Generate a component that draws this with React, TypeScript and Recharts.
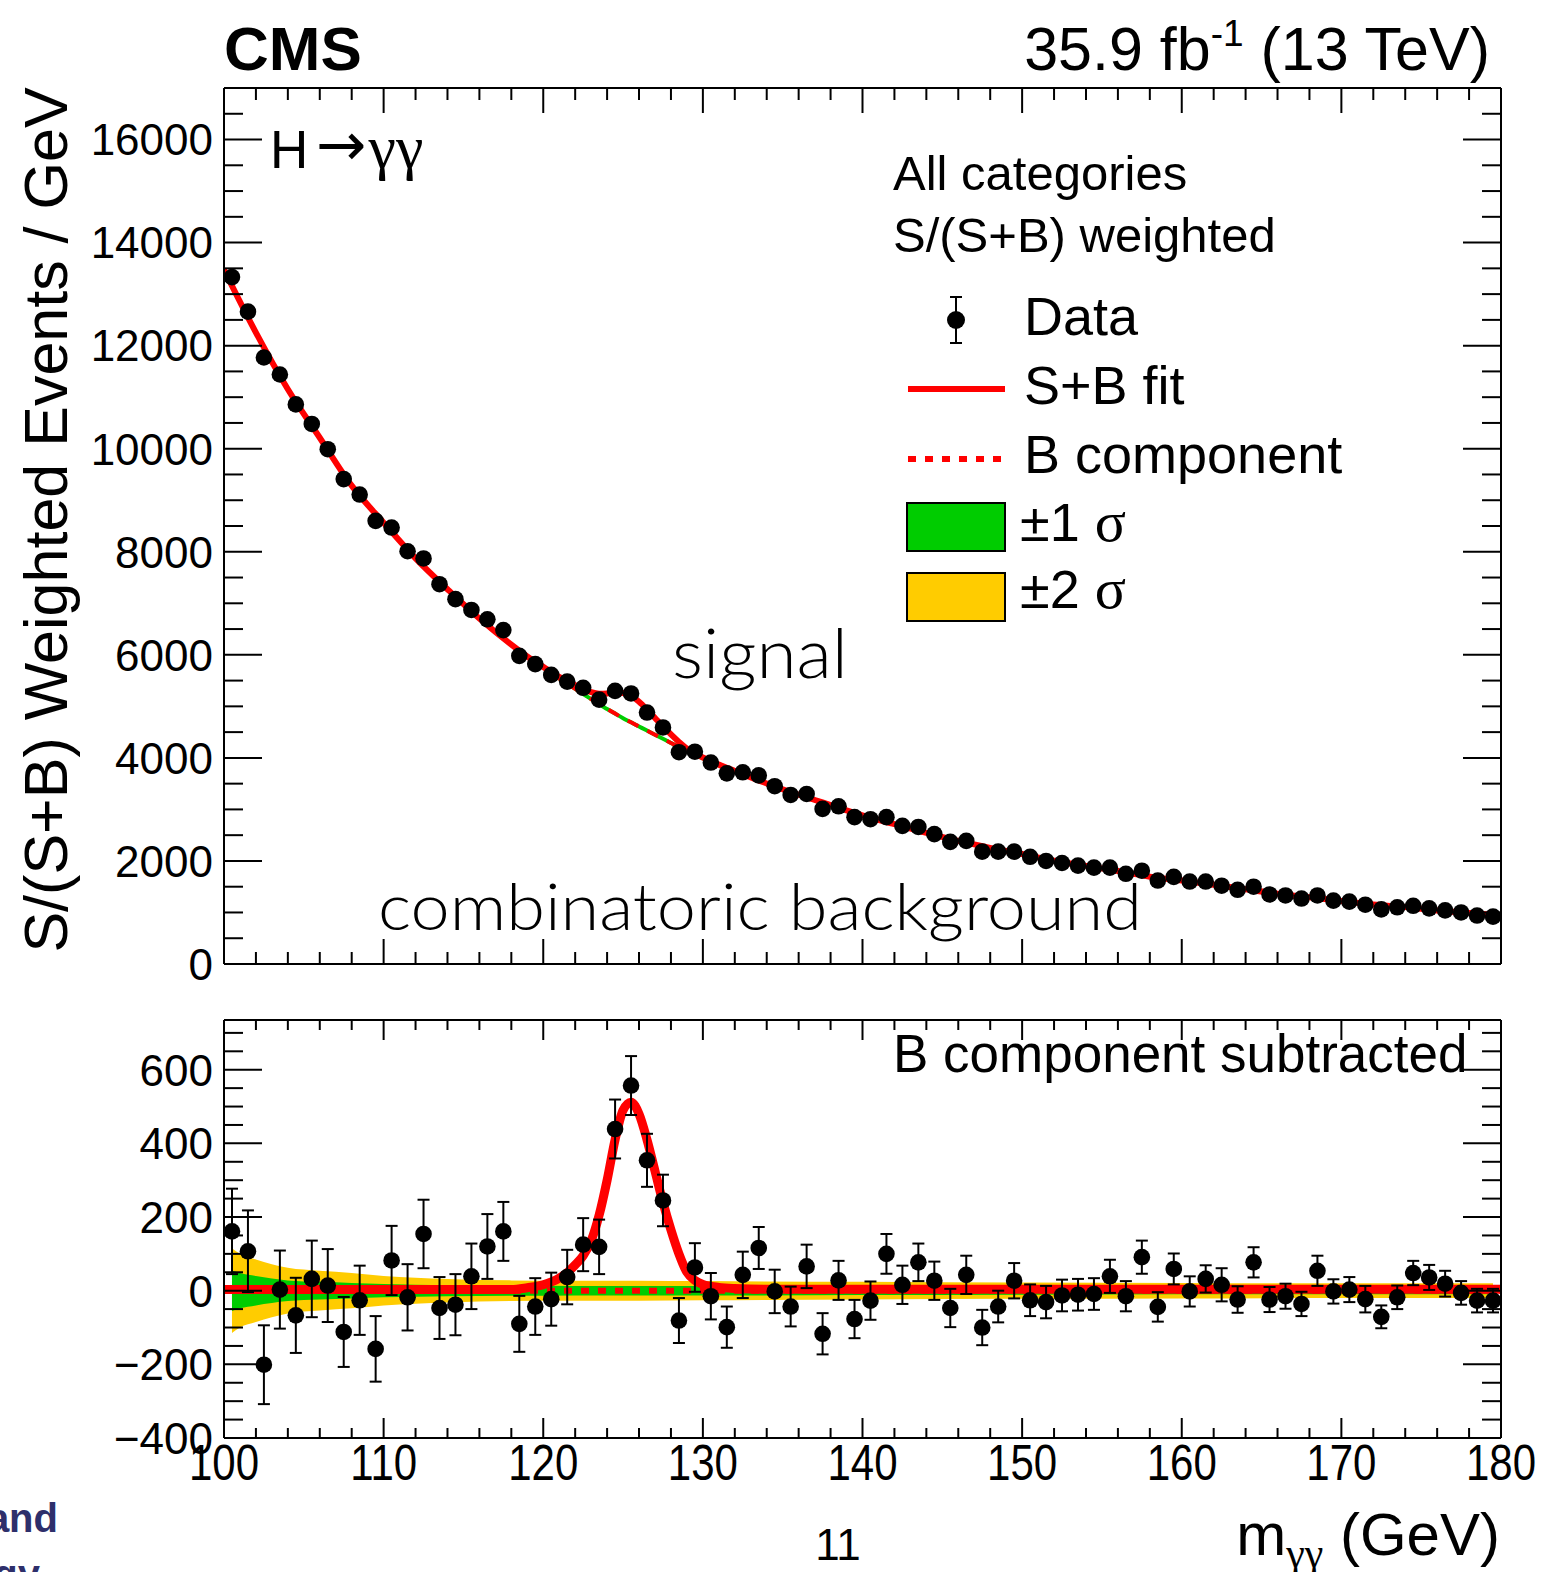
import React from "react";
import { Area, ComposedChart, ErrorBar, Line, Scatter, XAxis, YAxis } from "recharts";

const FONT = '"Liberation Sans", Arial, Helvetica, sans-serif';
const SERIF = '"Liberation Serif", "DejaVu Serif", serif';
const LIGHT = 'Lato, "Open Sans", "Noto Sans", sans-serif';

const RED = "#ff0000";
const GREEN = "#00cc00";
const YELLOW = "#ffcc00";

// 1 GeV bins, centres
const massBins = [
  100.5, 101.5, 102.5, 103.5, 104.5, 105.5, 106.5, 107.5, 108.5, 109.5,
  110.5, 111.5, 112.5, 113.5, 114.5, 115.5, 116.5, 117.5, 118.5, 119.5,
  120.5, 121.5, 122.5, 123.5, 124.5, 125.5, 126.5, 127.5, 128.5, 129.5,
  130.5, 131.5, 132.5, 133.5, 134.5, 135.5, 136.5, 137.5, 138.5, 139.5,
  140.5, 141.5, 142.5, 143.5, 144.5, 145.5, 146.5, 147.5, 148.5, 149.5,
  150.5, 151.5, 152.5, 153.5, 154.5, 155.5, 156.5, 157.5, 158.5, 159.5,
  160.5, 161.5, 162.5, 163.5, 164.5, 165.5, 166.5, 167.5, 168.5, 169.5,
  170.5, 171.5, 172.5, 173.5, 174.5, 175.5, 176.5, 177.5, 178.5, 179.5,
];

// S/(S+B) weighted events / GeV
const weightedEvents = [
  13330, 12660, 11770, 11440, 10860, 10480, 9990, 9410, 9110, 8600,
  8470, 8010, 7870, 7370, 7080, 6870, 6690, 6480, 5980, 5820,
  5610, 5480, 5360, 5130, 5300, 5250, 4880, 4590, 4110, 4120,
  3910, 3700, 3720, 3660, 3450, 3280, 3300, 3010, 3060, 2850,
  2810, 2850, 2680, 2660, 2520, 2370, 2390, 2180, 2180, 2180,
  2080, 2000, 1960, 1910, 1870, 1870, 1750, 1810, 1620, 1690,
  1600, 1600, 1520, 1440, 1500, 1350, 1330, 1270, 1330, 1230,
  1210, 1150, 1060, 1100, 1130, 1080, 1040, 1000, 940, 920,
];

// B component subtracted
const subtracted = [
  161, 107, -201, 3, -67, 32, 14, -112, -26, -158,
  82, -18, 154, -47, -38, 39, 120, 161, -90, -43,
  -23, 37, 125, 119, 439, 557, 354, 245, -81, 63,
  -15, -99, 43, 116, -2, -43, 66, -117, 28, -77,
  -27, 100, 16, 77, 27, -47, 43, -100, -43, 27,
  -26, -31, -13, -11, -9, 39, -15, 91, -44, 59,
  -2, 32, 16, -24, 77, -24, -15, -36, 54, -2,
  3, -23, -71, -18, 48, 36, 19, -6, -27, -27,
];

const subtractedErr = [
  116, 111, 107, 106, 102, 104, 99, 95, 94, 89,
  94, 90, 93, 84, 83, 89, 88, 80, 76, 77,
  72, 74, 72, 74, 80, 80, 72, 70, 61, 66,
  63, 56, 63, 57, 59, 54, 59, 56, 53, 52,
  52, 54, 52, 51, 52, 52, 52, 48, 43, 48,
  43, 44, 43, 43, 43, 45, 41, 45, 40, 42,
  41, 37, 45, 36, 41, 34, 34, 33, 41, 33,
  34, 36, 31, 32, 33, 34, 35, 32, 32, 32,
];

// fit curves
const fitMass = [
  100, 102, 104, 106, 108, 110, 112, 114, 116, 118,
  119, 120, 121,
  121.5, 122, 122.5, 123, 123.5, 124, 124.5, 125, 125.5, 126, 126.5, 127, 127.5, 128, 128.5, 129, 129.5, 130,
  131, 132,
  134, 136, 138, 140, 142, 144, 146, 148, 150, 152, 154, 156, 158, 160, 162, 164, 166, 168, 170, 172, 174, 176, 178, 180,
];
const bkgFit = [
  13470, 12250, 11150, 10210, 9280, 8560, 7870, 7270, 6700, 6195,
  5960, 5750, 5540,
  5440, 5340, 5240, 5140, 5040, 4950, 4860, 4770, 4690, 4610, 4530, 4450, 4370, 4290, 4210, 4130, 4060, 3990,
  3860, 3740,
  3500, 3280, 3080, 2880, 2710, 2540, 2385, 2250, 2130, 2000, 1900, 1800, 1690, 1615, 1535, 1445, 1360, 1290, 1220, 1150, 1100, 1035, 985, 940,
];
const sigFit = [
  3, 3, 3, 3, 3, 3, 3, 3, 3, 3,
  8, 16, 34,
  49, 70, 95, 135, 205, 300, 410, 490, 512, 480, 410, 325, 240, 165, 100, 50, 28, 17,
  9, 6,
  4, 4, 4, 4, 4, 4, 4, 4, 4, 4, 4, 4, 4, 4, 4, 4, 4, 4, 4, 4, 4, 4, 4, 4,
];

// uncertainty bands on the B component (half widths)
const bandMass = [100.5, 101, 102, 104, 106, 108, 110, 114, 118, 122, 126, 130, 140, 150, 160, 170, 179.5];
const band1Sigma = [55, 48, 40, 28, 24, 21, 18, 15, 14, 13, 13, 13, 12, 11, 10, 10, 10];
const band2Sigma = [115, 100, 85, 62, 54, 48, 40, 32, 28, 27, 27, 26, 24, 22, 21, 20, 20];

const bkgResidualMass = [100, 180];
const bkgResidual = [0, 0];

const range = (a: number, b: number, s: number) =>
  Array.from({ length: Math.round((b - a) / s) + 1 }, (_, i) => a + i * s);

const xMajor = [100, 110, 120, 130, 140, 150, 160, 170, 180];
const xMinor = range(100, 180, 2);
const topYMajor = [0, 2000, 4000, 6000, 8000, 10000, 12000, 14000, 16000];
const topYMinor = range(0, 16500, 500);
const botYMajor = [-400, -200, 0, 200, 400, 600];
const botYMinor = range(-400, 700, 50);

const topPoints = massBins.map((m, i) => ({ m, v: weightedEvents[i] }));
const topFit = fitMass.map((m, i) => ({ m, b: bkgFit[i], sb: bkgFit[i] + sigFit[i] }));
const botPoints = massBins.map((m, i) => ({ m, v: subtracted[i], e: subtractedErr[i] }));
const botFit = fitMass.map((m, i) => ({ m, s: sigFit[i] }));
const botBkg = bkgResidualMass.map((m, i) => ({ m, b: bkgResidual[i] }));
const botBand = bandMass.map((m, i) => ({
  m,
  s1: [-band1Sigma[i], band1Sigma[i]],
  s2: [-band2Sigma[i], band2Sigma[i]],
}));

const frame = { stroke: "#000", strokeWidth: 2 };
const fmt = (v: number) => (v < 0 ? `\u2212${-v}` : `${v}`);

function yTick(side: "left" | "right", majors: number[], majorLen: number, minorLen: number, gap: number) {
  return (props: any) => {
    const { x, y, payload } = props;
    const v = payload.value;
    const isMajor = majors.includes(v);
    const edge = side === "left" ? x + gap : x;
    const len = isMajor ? majorLen : minorLen;
    return (
      <g>
        <line x1={edge} y1={y} x2={side === "left" ? edge + len : edge - len} y2={y} stroke="#000" strokeWidth={2} />
        {side === "left" && isMajor && (
          <text x={x} y={y} dy="0.36em" textAnchor="end" fontSize={44} fontFamily={FONT} fill="#000">
            {fmt(v)}
          </text>
        )}
      </g>
    );
  };
}

function xTick(side: "top" | "bottom", majorLen: number, minorLen: number, labels: boolean) {
  return (props: any) => {
    const { x, y, payload } = props;
    const v = payload.value;
    const isMajor = xMajor.includes(v);
    const len = isMajor ? majorLen : minorLen;
    return (
      <g>
        <line x1={x} y1={y} x2={x} y2={side === "bottom" ? y - len : y + len} stroke="#000" strokeWidth={2} />
        {labels && isMajor && (
          <text
            transform={`translate(${x},${y + 42}) scale(1,1.2)`}
            textAnchor="middle"
            fontSize={42}
            fontFamily={FONT}
            fill="#000"
          >
            {v}
          </text>
        )}
      </g>
    );
  };
}

const dot = (r: number) => (props: any) => <circle cx={props.cx} cy={props.cy} r={r} fill="#000" />;

function TopPanel() {
  return (
    <ComposedChart width={1542} height={1000} margin={{ top: 87, right: 40, bottom: 0, left: 0 }}>
      <XAxis xAxisId="b" dataKey="m" type="number" domain={[100, 180]} allowDataOverflow ticks={xMinor} interval={0}
        orientation="bottom" height={36} tickSize={0} tickMargin={0} tickLine={false} axisLine={frame}
        tick={xTick("bottom", 25, 12, false)} />
      <XAxis xAxisId="t" dataKey="m" type="number" domain={[100, 180]} allowDataOverflow ticks={xMinor} interval={0}
        orientation="top" height={1} tickSize={0} tickMargin={0} tickLine={false} axisLine={frame}
        tick={xTick("top", 25, 12, false)} />
      <YAxis yAxisId="l" type="number" domain={[0, 17000]} allowDataOverflow ticks={topYMinor} interval={0}
        width={224} tickSize={0} tickMargin={11} tickLine={false} axisLine={frame}
        tick={yTick("left", topYMajor, 38, 19, 11)} />
      <YAxis yAxisId="r" orientation="right" type="number" domain={[0, 17000]} allowDataOverflow ticks={topYMinor}
        interval={0} width={1} tickSize={0} tickMargin={0} tickLine={false} axisLine={frame}
        tick={yTick("right", topYMajor, 38, 19, 0)} />
      <Line xAxisId="b" yAxisId="l" data={topFit} dataKey="b" type="monotone" stroke={GREEN} strokeWidth={4}
        dot={false} isAnimationActive={false} />
      <Line xAxisId="b" yAxisId="l" data={topFit} dataKey="b" type="monotone" stroke={RED} strokeWidth={4}
        strokeDasharray="12 10" dot={false} isAnimationActive={false} />
      <Line xAxisId="b" yAxisId="l" data={topFit} dataKey="sb" type="monotone" stroke={RED} strokeWidth={6}
        dot={false} isAnimationActive={false} />
      <Scatter xAxisId="b" yAxisId="l" data={topPoints} dataKey="v" shape={dot(8.3)} isAnimationActive={false} />
    </ComposedChart>
  );
}

function BottomPanel() {
  return (
    <ComposedChart width={1542} height={572} margin={{ top: 19, right: 40, bottom: 0, left: 0 }}>
      <XAxis xAxisId="b" dataKey="m" type="number" domain={[100, 180]} allowDataOverflow ticks={xMinor} interval={0}
        orientation="bottom" height={134} tickSize={0} tickMargin={0} tickLine={false} axisLine={frame}
        tick={xTick("bottom", 20, 10, true)} />
      <XAxis xAxisId="t" dataKey="m" type="number" domain={[100, 180]} allowDataOverflow ticks={xMinor} interval={0}
        orientation="top" height={1} tickSize={0} tickMargin={0} tickLine={false} axisLine={frame}
        tick={xTick("top", 20, 10, false)} />
      <YAxis yAxisId="l" type="number" domain={[-400, 735]} allowDataOverflow ticks={botYMinor} interval={0}
        width={224} tickSize={0} tickMargin={11} tickLine={false} axisLine={frame}
        tick={yTick("left", botYMajor, 38, 19, 11)} />
      <YAxis yAxisId="r" orientation="right" type="number" domain={[-400, 735]} allowDataOverflow ticks={botYMinor}
        interval={0} width={1} tickSize={0} tickMargin={0} tickLine={false} axisLine={frame}
        tick={yTick("right", botYMajor, 38, 19, 0)} />
      <Area xAxisId="b" yAxisId="l" data={botBand} dataKey="s2" type="monotone" fill={YELLOW} fillOpacity={1}
        stroke="none" isAnimationActive={false} />
      <Area xAxisId="b" yAxisId="l" data={botBand} dataKey="s1" type="monotone" fill={GREEN} fillOpacity={1}
        stroke="none" isAnimationActive={false} />
      <Line xAxisId="b" yAxisId="l" data={botBkg} dataKey="b" stroke={RED} strokeWidth={6} strokeDasharray="8 9"
        dot={false} isAnimationActive={false} />
      <Line xAxisId="b" yAxisId="l" data={botFit} dataKey="s" type="monotone" stroke={RED} strokeWidth={9}
        dot={false} isAnimationActive={false} />
      <Scatter xAxisId="b" yAxisId="l" data={botPoints} dataKey="v" shape={dot(8.3)} isAnimationActive={false}>
        <ErrorBar dataKey="e" direction="y" width={6} strokeWidth={2} stroke="#000" />
      </Scatter>
    </ComposedChart>
  );
}

function Overlay() {
  const t = { fontFamily: FONT, fill: "#000" };
  return (
    <svg width={1542} height={1572} style={{ position: "absolute", left: 0, top: 0, pointerEvents: "none" }}>
      <text x={224} y={70} fontSize={62} fontWeight="bold" {...t}>CMS</text>
      <text x={1490} y={70} fontSize={61} textAnchor="end" {...t}>
        35.9 fb<tspan fontSize={37} dy={-24}>-1</tspan><tspan dy={24}> (13 TeV)</tspan>
      </text>
      <text x={270} y={168} fontSize={53} {...t}>
        H<tspan fontFamily='"DejaVu Sans", sans-serif' fontSize={60} dx={8} dy={-3}>→</tspan>
        <tspan fontFamily={SERIF} fontSize={62} dx={2} dy={3}>γγ</tspan>
      </text>
      <text x={893} y={190} fontSize={49} {...t}>All categories</text>
      <text x={893} y={252} fontSize={49} {...t}>S/(S+B) weighted</text>

      {/* legend */}
      <line x1={956} y1={297} x2={956} y2={343} stroke="#000" strokeWidth={2} />
      <line x1={950} y1={297} x2={962} y2={297} stroke="#000" strokeWidth={2} />
      <line x1={950} y1={343} x2={962} y2={343} stroke="#000" strokeWidth={2} />
      <circle cx={956} cy={320} r={9} fill="#000" />
      <text x={1024} y={335} fontSize={54} {...t}>Data</text>
      <line x1={908} y1={389} x2={1005} y2={389} stroke={RED} strokeWidth={6} />
      <text x={1024} y={404} fontSize={54} {...t}>S+B fit</text>
      <line x1={908} y1={459} x2={1005} y2={459} stroke={RED} strokeWidth={6} strokeDasharray="8 9" />
      <text x={1024} y={473} fontSize={54} {...t}>B component</text>
      <rect x={907} y={503} width={98} height={48} fill={GREEN} stroke="#000" strokeWidth={2} />
      <text x={1020} y={541} fontSize={54} {...t}>
        ±1 <tspan fontFamily={SERIF} fontSize={58}>σ</tspan>
      </text>
      <rect x={907} y={573} width={98} height={48} fill={YELLOW} stroke="#000" strokeWidth={2} />
      <text x={1020} y={608} fontSize={54} {...t}>
        ±2 <tspan fontFamily={SERIF} fontSize={58}>σ</tspan>
      </text>

      <text x={672} y={678} fontSize={68} fontWeight={300} fontFamily={LIGHT} fill="#000"
        textLength={176} lengthAdjust="spacingAndGlyphs">signal</text>
      <text x={378} y={930} fontSize={66} fontWeight={300} fontFamily={LIGHT} fill="#000"
        textLength={764} lengthAdjust="spacingAndGlyphs">combinatoric background</text>
      <text x={893} y={1072} fontSize={53} {...t}>B component subtracted</text>

      <text transform="translate(67,520) rotate(-90)" textAnchor="middle" fontSize={61} {...t}>
        S/(S+B) Weighted Events / GeV
      </text>
      <text x={1500} y={1555} fontSize={60} textAnchor="end" {...t}>
        m<tspan fontSize={42} dy={12} fontFamily={SERIF}>γγ</tspan><tspan dy={-12}> (GeV)</tspan>
      </text>
      <text x={838} y={1560} fontSize={44} textAnchor="middle" {...t}>11</text>
      <text x={58} y={1532} fontSize={40} fontWeight="bold" textAnchor="end" fontFamily={FONT} fill="#2e2f6b">and</text>
      <text x={40} y={1588} fontSize={40} fontWeight="bold" textAnchor="end" fontFamily={FONT} fill="#2e2f6b">gy</text>
    </svg>
  );
}

export default function App() {
  return (
    <div style={{ position: "absolute", left: 0, top: 0, width: 1542, height: 1572, background: "#fff", overflow: "hidden" }}>
      <div style={{ position: "absolute", left: 0, top: 0 }}>
        <TopPanel />
      </div>
      <div style={{ position: "absolute", left: 0, top: 1000 }}>
        <BottomPanel />
      </div>
      <Overlay />
    </div>
  );
}
